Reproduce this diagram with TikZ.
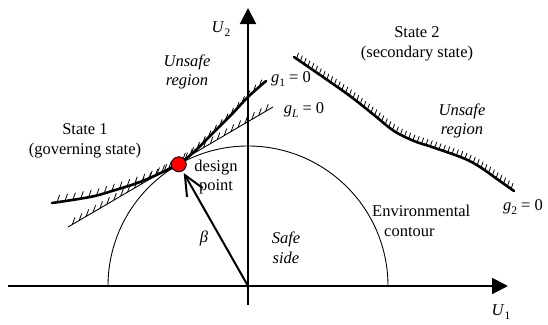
\documentclass[tikz,border=0pt]{standalone}
\usepackage{fontspec}
\setmainfont{Liberation Serif}
\usetikzlibrary{arrows.meta,decorations.markings}
\newcommand{\sbs}[1]{\raisebox{-0.28em}{\fontsize{11.5}{11.5}\selectfont #1}}
\begin{document}
\begin{tikzpicture}[x=1pt,y=-1pt,
  lbl/.style={inner sep=0pt, font=\fontsize{16.5}{19.5}\selectfont},
  ital/.style={inner sep=0pt, font=\fontsize{16.5}{19.5}\selectfont\itshape},
  axis/.style={line width=2pt, -{Triangle[length=16pt,width=16pt]}},
  thickcurve/.style={line width=2.6pt, line cap=round},
  thincurve/.style={line width=0.9pt},
  hatchwide/.style={postaction={decorate, decoration={markings,
      mark=between positions 5pt and -2pt step 8pt with {\pgftransformresetnontranslations
        \draw[line width=0.8pt] (0,0) -- (70:7.5pt);}}}},
  hatchdense/.style={postaction={decorate, decoration={markings,
      mark=between positions 3pt and -1pt step 4.6pt with {\pgftransformresetnontranslations
        \draw[line width=0.8pt] (0,0) -- (70:6pt);}}}},
  dpstyle/.style={circle, fill=red, draw=black, line width=0.9pt, minimum size=15pt, inner sep=0pt}
]
\useasboundingbox (0,0) rectangle (548,324);

% axes
\coordinate (O) at (248,286);
\coordinate (xl) at (8,286);
\coordinate (xr) at (508,286);
\coordinate (yb) at (248,305);
\coordinate (yt) at (248,8);
\draw[axis] (xl) -- (xr);
\draw[axis] (yb) -- (yt);

% environmental contour
\coordinate (cl) at (108,286);
\draw[thincurve] (cl) arc[start angle=180, end angle=0, radius=140pt];

% linearised limit state g_L
\coordinate (gLa) at (68,227);
\coordinate (gLb) at (273,107);
\draw[thincurve, hatchwide] (gLa) -- (gLb);

% g_1 curve
\draw[thickcurve, hatchwide] plot[smooth, tension=0.6] coordinates
  {(52,203) (90,197) (112,191) (140,182) (165,171) (178.8,164.3) (195,151) (211,135) (232,114) (248,97) (266,81)};

% g_2 curve
\draw[thickcurve, hatchdense] plot[smooth, tension=0.6] coordinates
  {(294,57) (323,77) (350,96) (374,115) (394,131) (414,141) (432,147) (463,158) (480,167) (497,179) (514,191)};

% design point and beta
\node[dpstyle] (dp) at (178.8,164.3) {};
\draw[line width=2pt, -{Straight Barb[length=20pt,width=18pt]}, shorten >=2pt] (O) -- (dp);

% labels
\node[lbl] (u2) at (221,29) {\textit{U}\sbs{2}};
\node[lbl] (u1) at (501,312) {\textit{U}\sbs{1}};
\node[ital, align=center] (unsafe1) at (187,72) {Unsafe\\region};
\node[lbl] (g1lbl) at (291,79) {\textit{g}\sbs{1} = 0};
\node[lbl] (gLlbl) at (304,110) {\textit{g}\sbs{\textit{L}} = 0};
\node[lbl, align=center] (state1) at (85,141) {State 1\\(governing state)};
\node[lbl, align=center] (state2) at (417,44) {State 2\\(secondary state)};
\node[ital, align=center] (unsafe2) at (462,121) {Unsafe\\region};
\node[lbl, align=center] (dplbl) at (216,177) {design\\point};
\node[ital] (beta) at (204,238) {β};
\node[ital, align=center] (safe) at (286,248) {Safe\\side};
\node[lbl, align=left, anchor=west] (env) at (372,221) {Environmental\\\hspace*{12pt}contour};
\node[lbl] (g2lbl) at (523,207) {\textit{g}\sbs{2} = 0};
\end{tikzpicture}
\end{document}
